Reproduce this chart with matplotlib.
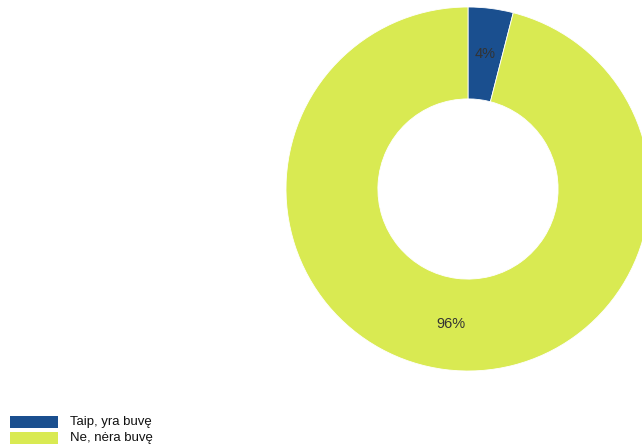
import numpy as np
import matplotlib
matplotlib.use('Agg')
import matplotlib.pyplot as plt
from matplotlib.patches import Rectangle

plt.rcParams['font.family'] = ['Liberation Sans', 'DejaVu Sans']

labels = ['Taip, yra buvę', 'Ne, nėra buvę']
values = [4, 96]
colors = ['#1a4f8f', '#d9ea52']

W, H = 642, 448
fig = plt.figure(figsize=(W / 100, H / 100), dpi=100)

cx, cy, r = 468, 189, 182
ax = fig.add_axes([(cx - r) / W, (H - cy - r) / H, 2 * r / W, 2 * r / H])
wedges, texts = ax.pie(values, colors=colors, startangle=90, counterclock=False,
                       radius=1, wedgeprops=dict(width=0.505, edgecolor='white', linewidth=0.6))
for w, v in zip(wedges, values):
    ang = np.deg2rad((w.theta1 + w.theta2) / 2)
    ax.text(0.75 * np.cos(ang), 0.75 * np.sin(ang), f'{v}%', ha='center', va='center',
            fontsize=10.5, color='#333333')
ax.set_xlim(-1, 1)
ax.set_ylim(-1, 1)
ax.set_aspect('equal')
ax.axis('off')

# legend at bottom left
for i, (lab, col) in enumerate(zip(labels, colors)):
    y0 = 416 + i * 16
    fig.patches.append(Rectangle((10 / W, 1 - (y0 + 12) / H), 48 / W, 12 / H,
                                 transform=fig.transFigure, facecolor=col, edgecolor='none'))
    fig.text(70 / W, 1 - (y0 + 6) / H, lab, ha='left', va='center', fontsize=9.5, color='#111111')

fig.savefig('out.png', dpi=100)
